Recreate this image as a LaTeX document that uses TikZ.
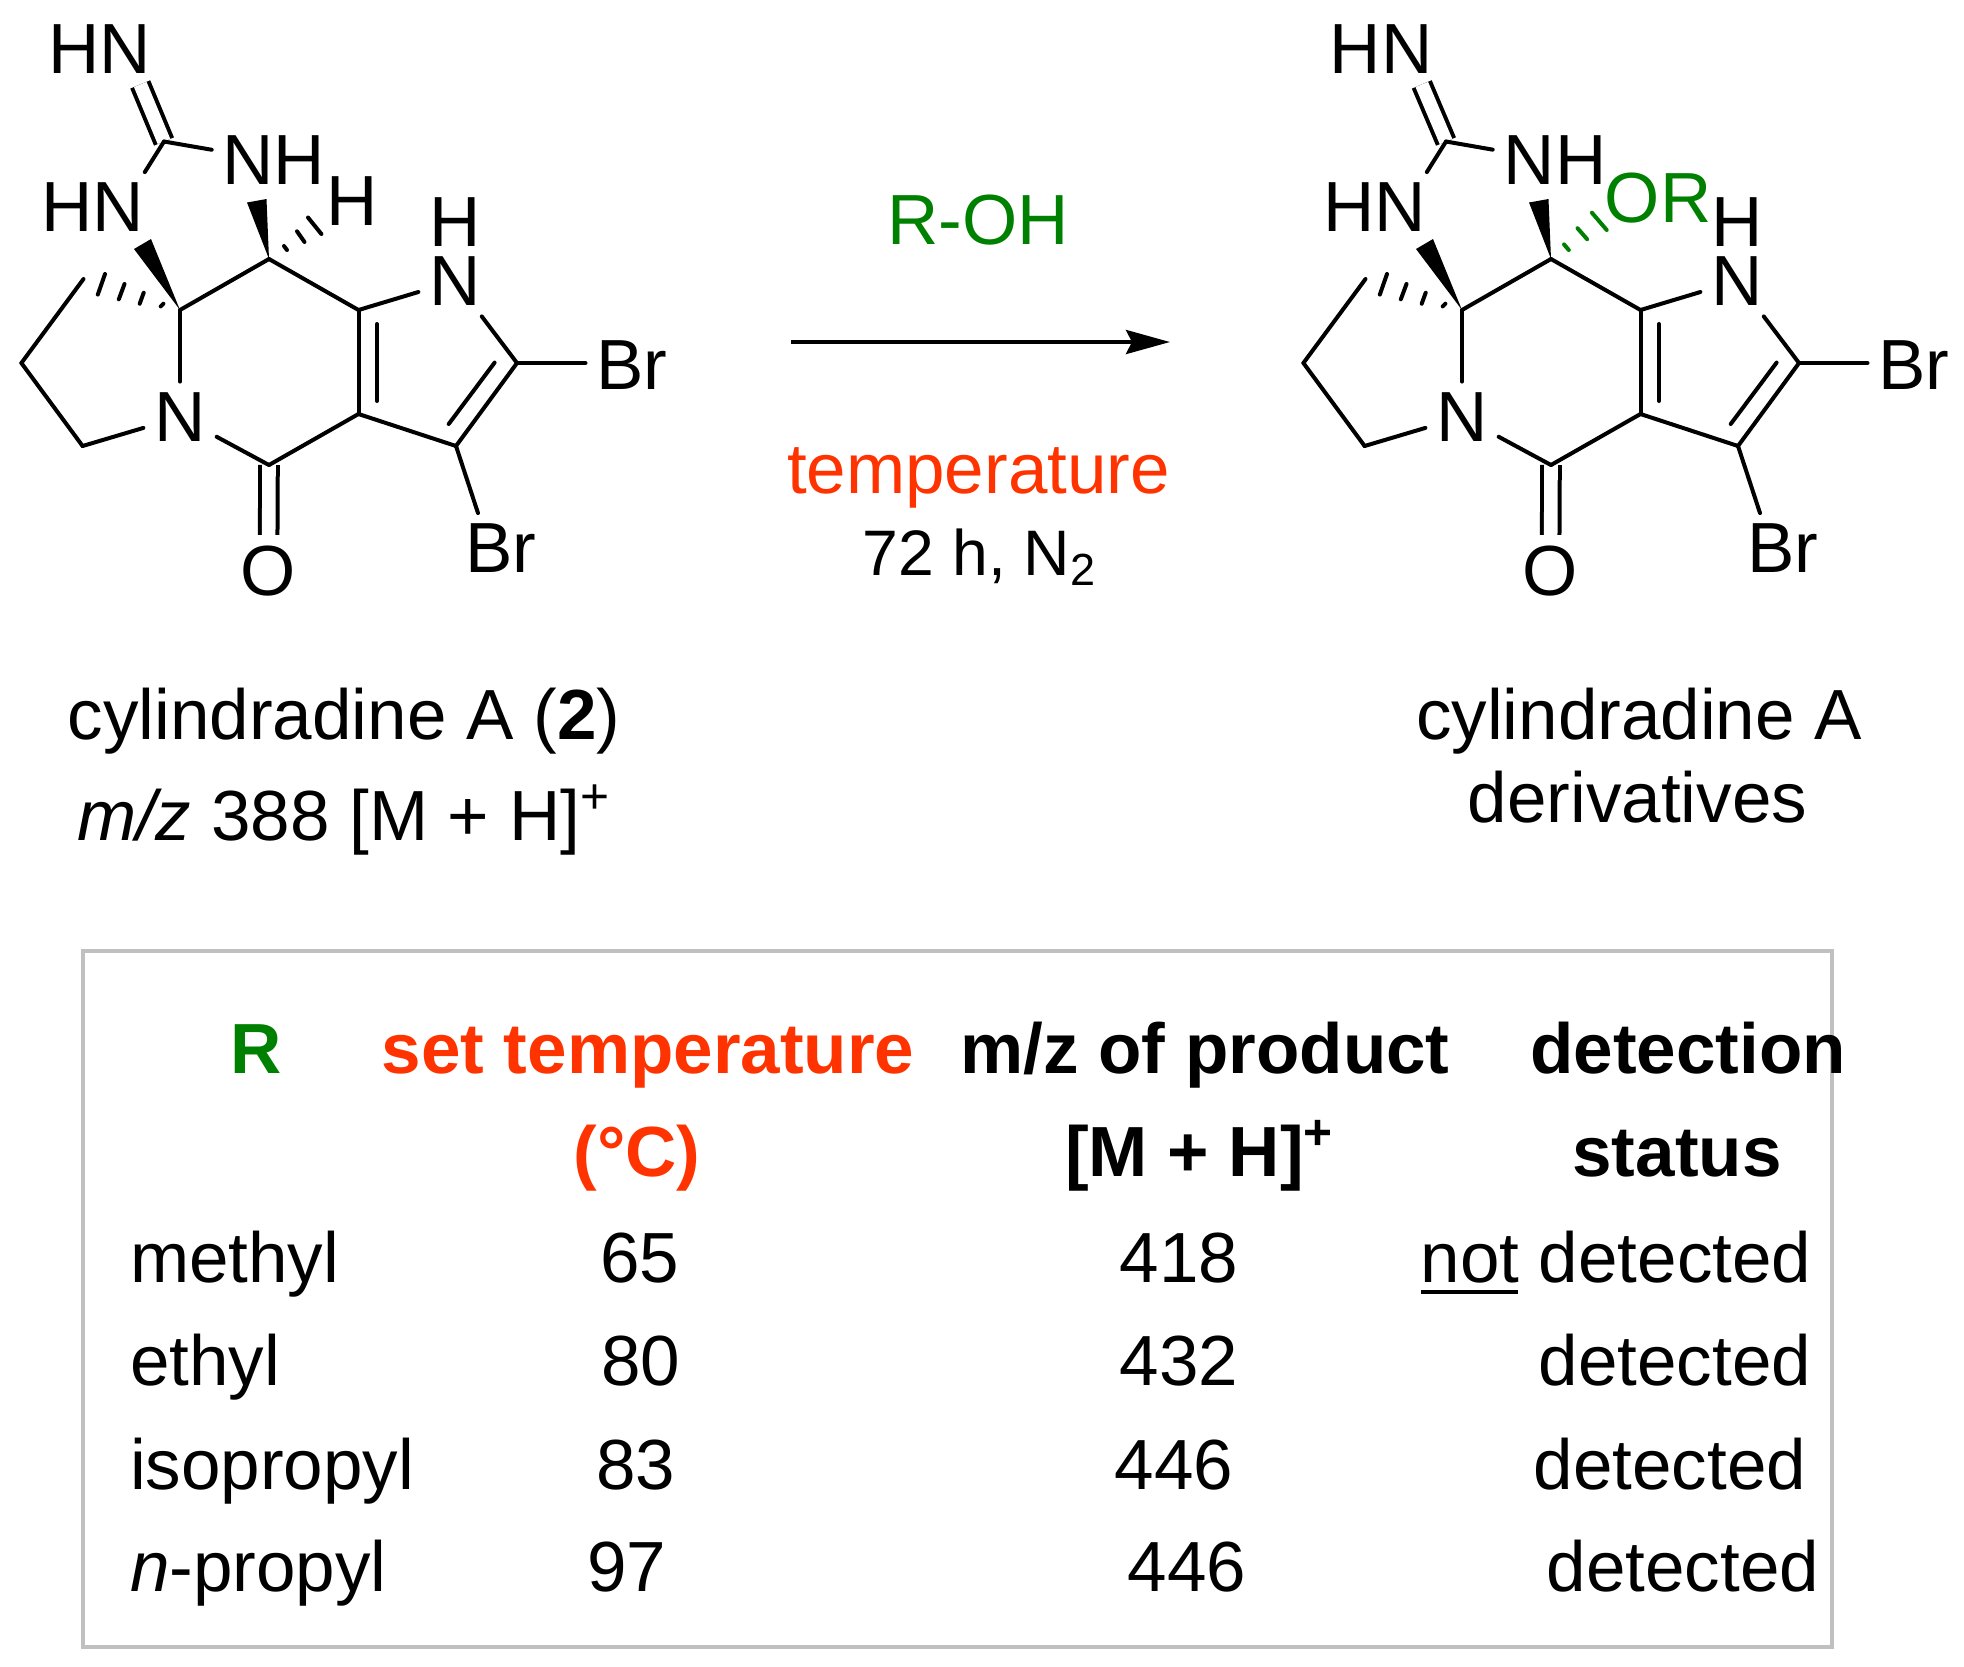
\documentclass[tikz,border=0pt]{standalone}
\usepackage{fontspec}
\setmainfont{Liberation Sans}
\usepackage{tikz}
\usetikzlibrary{arrows.meta}
\definecolor{alcgreen}{RGB}{0,128,0}
\definecolor{tempred}{RGB}{255,51,0}
\definecolor{boxgray}{RGB}{192,192,192}
\tikzstyle{txt} = [inner sep=0pt, outer sep=0pt, anchor=base, font=\fontsize{20.2}{24}\selectfont]
\tikzstyle{hdr} = [txt, font=\fontsize{20.2}{24}\selectfont\bfseries]
\tikzstyle{atom} = [inner sep=1.1mm, outer sep=0pt, font=\fontsize{20.2}{24}\selectfont]
\tikzstyle{bond} = [line width=0.4mm, line cap=round]
\tikzstyle{dbl} = [line width=0.4mm, line cap=butt, double, double distance=1.36mm]
\tikzstyle{hash} = [line width=0.4mm, line cap=round]
\tikzstyle{arrow} = [line width=0.4mm, -{Stealth[length=4.4mm, width=2.4mm, inset=0.6mm]}]

\begin{document}
\begin{tikzpicture}[x=0.1mm, y=-0.1mm]
    \useasboundingbox (0,0) rectangle (1964,1666);

    % Cylindradine A, carbons
    \coordinate (spiroA) at (180,310);
    \coordinate (chA) at (269,259);
    \coordinate (ringA) at (358.5,310);
    \coordinate (ringB) at (358.5,414);
    \coordinate (carbonylA) at (269,465);
    \coordinate (pyrA) at (82.6,446);
    \coordinate (pyrB) at (21.4,363);
    \coordinate (pyrC) at (83.5,279);
    \coordinate (brCa) at (517,363);
    \coordinate (brCb) at (456,446);
    \coordinate (guanA) at (164,141.5);

    % Cylindradine A, atoms
    \node (hnTopA) [atom] at (99.5,49) {HN};
    \node (hnLeftA) [atom] at (92.3,207.5) {HN};
    \node (nhA) [atom] at (274,160.5) {NH};
    \node (hA) [atom] at (352,201) {H};
    \node (hPyrA) [atom] at (455,222.5) {H};
    \node (nPyrA) [atom] at (455,281) {N};
    \node (nCoreA) [atom] at (180,417) {N};
    \node (oxoA) [atom] at (268.5,571) {O};
    \node (brOneA) [atom] at (632,365.5) {Br};
    \node (brTwoA) [atom] at (501,548.5) {Br};

    % Bonds
    \draw [dbl] (guanA) -- (hnTopA.-41);
    \draw [dbl] (carbonylA) -- (oxoA);
    \draw [bond] (guanA) -- (hnLeftA.34.6);
    \draw [bond] (guanA) -- (nhA);
    \draw [bond] (spiroA) -- (chA);
    \draw [bond] (chA) -- (ringA);
    \draw [bond] (ringA) -- (ringB);
    \draw [bond] (ringA) ++(18.5,14) -- ++(0,77);
    \draw [bond] (ringB) -- (carbonylA);
    \draw [bond] (carbonylA) -- (nCoreA);
    \draw [bond] (spiroA) -- (spiroA |- nCoreA.north);
    \draw [bond] (nCoreA) -- (pyrA);
    \draw [bond] (pyrA) -- (pyrB);
    \draw [bond] (pyrB) -- (pyrC);
    \draw [bond] (ringA) -- (nPyrA);
    \draw [bond] (nPyrA) -- (brCa);
    \draw [bond] (brCa) -- (brCb);
    \draw [bond] (brCa) ++(-22.4,-0.4) -- ++(-45.9,61.4);
    \draw [bond] (brCb) -- (ringB);
    \draw [bond] (brCa) -- (brCa -| brOneA.west);
    \draw [bond] (brCb) -- (brTwoA.123.7);

    % Wedges and hashes
    \fill (spiroA) -- ++(-46,-61) -- ++(17,-10) -- cycle;
    \fill (chA) -- ++(-22,-56.5) -- ++(19.5,-3.5) -- cycle;
    \draw [hash] (chA) ++(15,-13) -- ++(3,4);
    \draw [hash] (chA) ++(28,-27.7) -- ++(7.5,10.7);
    \draw [hash] (chA) ++(39,-41.5) -- ++(13.4,16.5);
    \draw [hash] (spiroA) ++(-19.3,-3.6) -- ++(2.7,-2.7);
    \draw [hash] (spiroA) ++(-40.3,-6.3) -- ++(4,-11);
    \draw [hash] (spiroA) ++(-61.2,-10.7) -- ++(5.7,-15.3);
    \draw [hash] (spiroA) ++(-82.2,-15.4) -- ++(7.2,-20.6);

    % Derivative, carbons
    \coordinate (spiroB) at (1462,310);
    \coordinate (chB) at (1551,259);
    \coordinate (ringC) at (1640.5,310);
    \coordinate (ringD) at (1640.5,414);
    \coordinate (carbonylB) at (1551,465);
    \coordinate (pyrD) at (1364.6,446);
    \coordinate (pyrE) at (1303.4,363);
    \coordinate (pyrF) at (1365.5,279);
    \coordinate (brCc) at (1799,363);
    \coordinate (brCd) at (1738,446);
    \coordinate (guanB) at (1446,141.5);

    % Derivative, atoms
    \node (hnTopB) [atom] at (1381,49) {HN};
    \node (hnLeftB) [atom] at (1374.3,207.5) {HN};
    \node (nhB) [atom] at (1555,160.5) {NH};
    \node (orB) [atom, text=alcgreen] at (1658,198) {OR};
    \node (hPyrB) [atom] at (1737,222.5) {H};
    \node (nPyrB) [atom] at (1737,281) {N};
    \node (nCoreB) [atom] at (1462,417) {N};
    \node (oxoB) [atom] at (1550.5,571) {O};
    \node (brOneB) [atom] at (1914,365.5) {Br};
    \node (brTwoB) [atom] at (1783,548.5) {Br};

    % Bonds
    \draw [dbl] (guanB) -- (hnTopB.-41);
    \draw [dbl] (carbonylB) -- (oxoB);
    \draw [bond] (guanB) -- (hnLeftB.34.6);
    \draw [bond] (guanB) -- (nhB);
    \draw [bond] (spiroB) -- (chB);
    \draw [bond] (chB) -- (ringC);
    \draw [bond] (ringC) -- (ringD);
    \draw [bond] (ringC) ++(18.5,14) -- ++(0,77);
    \draw [bond] (ringD) -- (carbonylB);
    \draw [bond] (carbonylB) -- (nCoreB);
    \draw [bond] (spiroB) -- (spiroB |- nCoreB.north);
    \draw [bond] (nCoreB) -- (pyrD);
    \draw [bond] (pyrD) -- (pyrE);
    \draw [bond] (pyrE) -- (pyrF);
    \draw [bond] (ringC) -- (nPyrB);
    \draw [bond] (nPyrB) -- (brCc);
    \draw [bond] (brCc) -- (brCd);
    \draw [bond] (brCc) ++(-22.4,-0.4) -- ++(-45.9,61.4);
    \draw [bond] (brCd) -- (ringD);
    \draw [bond] (brCc) -- (brCc -| brOneB.west);
    \draw [bond] (brCd) -- (brTwoB.123.7);

    % Wedges and hashes
    \fill (spiroB) -- ++(-46,-61) -- ++(17,-10) -- cycle;
    \fill (chB) -- ++(-22,-56.5) -- ++(19.5,-3.5) -- cycle;
    \draw [hash, alcgreen] (chB) ++(13,-14.6) -- ++(4.8,5.6);
    \draw [hash, alcgreen] (chB) ++(26.5,-30.8) -- ++(9.6,11);
    \draw [hash, alcgreen] (chB) ++(40.9,-46.3) -- ++(14.8,17.3);
    \draw [hash] (spiroB) ++(-19.3,-3.6) -- ++(2.7,-2.7);
    \draw [hash] (spiroB) ++(-40.3,-6.3) -- ++(4,-11);
    \draw [hash] (spiroB) ++(-61.2,-10.7) -- ++(5.7,-15.3);
    \draw [hash] (spiroB) ++(-82.2,-15.4) -- ++(7.2,-20.6);

    % Reaction arrow
    \coordinate (arrowStart) at (791,342);
    \coordinate (arrowEnd) at (1170,342);
    \draw [arrow] (arrowStart) -- (arrowEnd);
    \node (alcohol) [txt, text=alcgreen] at (978,244) {R-OH};
    \node (temperature) [txt, text=tempred] at (978.5,493) {temperature};
    \node (conditions) [txt, font=\fontsize{18.3}{22}\selectfont] at (980,575) {72 h, N\textsubscript{2}};

    % Captions
    \node (nameA) [txt] at (344,739) {cylindradine A (\textbf{2})};
    \node (massA) [txt] at (344,840) {\textit{m/z} 388 [M + H]\textsuperscript{+}};
    \node (nameB) [txt] at (1639,739) {cylindradine A};
    \node (nameC) [txt] at (1637.5,822) {derivatives};

    % Table frame
    \node (tableBox) [draw=boxgray, line width=0.4mm, minimum width=174.9mm, minimum height=69.6mm, inner sep=0pt, outer sep=0pt, anchor=north west] at (83,951) {};

    % Table header
    \node (headR) [hdr, text=alcgreen] at (256,1073) {R};
    \node (headTemp) [hdr, text=tempred] at (648,1073) {set temperature};
    \node (headUnit) [hdr, text=tempred] at (637,1176) {(°C)};
    \node (headMass) [hdr] at (1205,1073) {m/z of product};
    \node (headIon) [hdr] at (1200,1176) {[M + H]\textsuperscript{+}};
    \node (headDet) [hdr] at (1688,1073) {detection};
    \node (headStat) [hdr] at (1677,1176) {status};

    % Table rows
    \node (rowMe) [txt, anchor=base west] at (130,1282) {methyl};
    \node (rowEt) [txt, anchor=base west] at (130,1385) {ethyl};
    \node (rowIso) [txt, anchor=base west] at (130,1489) {isopropyl};
    \node (rowPr) [txt, anchor=base west] at (130,1591) {\textit{n}-propyl};
    \node (tempMe) [txt] at (640,1282) {65};
    \node (tempEt) [txt] at (641,1385) {80};
    \node (tempIso) [txt] at (636,1489) {83};
    \node (tempPr) [txt] at (627,1591) {97};
    \node (massMe) [txt] at (1179,1282) {418};
    \node (massEt) [txt] at (1179,1385) {432};
    \node (massIso) [txt] at (1174,1489) {446};
    \node (massPr) [txt] at (1187,1591) {446};
    \node (detMe) [txt] at (1616,1282) {\rlap{\rule[-1.15mm]{9.7mm}{0.4mm}}not detected};
    \node (detEt) [txt] at (1675,1385) {detected};
    \node (detIso) [txt] at (1670,1489) {detected};
    \node (detPr) [txt] at (1683,1591) {detected};
\end{tikzpicture}
\end{document}
